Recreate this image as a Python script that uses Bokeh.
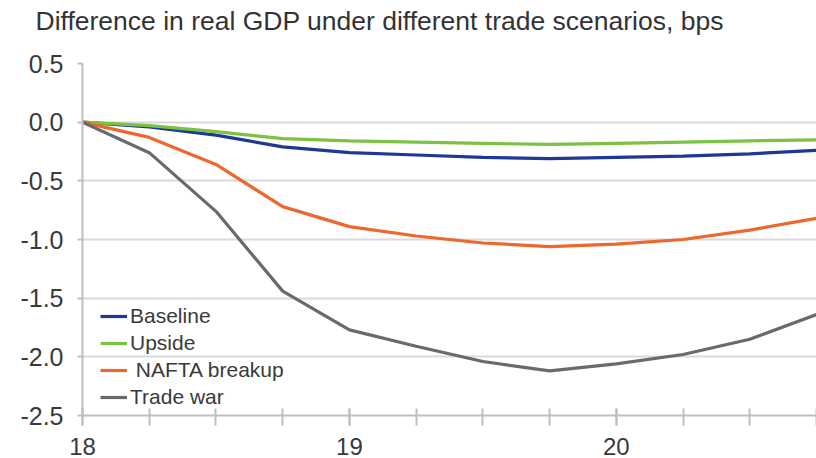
from bokeh.plotting import figure
from bokeh.models import FixedTicker, Legend, LegendItem, Range1d, PrintfTickFormatter, Title
from bokeh.embed import file_html
from bokeh.resources import INLINE

# Quarterly timeline (years 2018-2020, shown as 18, 19, 20)
quarters = [18.0, 18.25, 18.5, 18.75, 19.0, 19.25, 19.5, 19.75, 20.0, 20.25, 20.5, 20.75]
year_ticks = [18, 19, 20]
y_ticks = [-2.5, -2.0, -1.5, -1.0, -0.5, 0.0, 0.5]

# Difference in real GDP by scenario
baseline = [0.0, -0.04, -0.11, -0.21, -0.26, -0.28, -0.30, -0.31, -0.30, -0.29, -0.27, -0.24]
upside = [0.0, -0.03, -0.08, -0.14, -0.16, -0.17, -0.18, -0.19, -0.18, -0.17, -0.16, -0.15]
nafta_breakup = [0.0, -0.13, -0.36, -0.72, -0.89, -0.97, -1.03, -1.06, -1.04, -1.00, -0.92, -0.82]
trade_war = [0.0, -0.26, -0.76, -1.44, -1.77, -1.91, -2.04, -2.12, -2.06, -1.98, -1.85, -1.64]

series_names = ["Baseline", "Upside", " NAFTA breakup", "Trade war"]
series_colors = ["#1f3893", "#7cc242", "#ec682e", "#6a6a6a"]

FONT = "Liberation Sans"
TEXT = "#3a3a3a"

p = figure(width=816, height=458, output_backend="svg", toolbar_location=None,
           x_range=Range1d(18, 20.75), y_range=Range1d(-2.5, 0.5),
           min_border_left=82, min_border_right=0, min_border_top=63,
           min_border_bottom=43)

# Blank spacer between the frame and the heading, lifting the heading up
spacer = Title(text=" ", text_font_size="8px", standoff=15)
p.add_layout(spacer, "above")

p.title.text = "Difference in real GDP under different trade scenarios, bps"
p.title.text_font = FONT
p.title.text_font_size = "26.5px"
p.title.text_font_style = "normal"
p.title.text_color = "#333333"
p.title.offset = -47
p.title.standoff = 0
p.title.vertical_align = "top"

p.outline_line_color = None
p.background_fill_color = "white"
p.border_fill_color = "white"

# Axes
p.xaxis.ticker = FixedTicker(ticks=year_ticks, minor_ticks=quarters)
p.xaxis.formatter = PrintfTickFormatter(format="%d")
p.xaxis.major_tick_in = 7
p.xaxis.major_tick_out = 10
p.xaxis.minor_tick_in = 7
p.xaxis.minor_tick_out = 10
p.xaxis.major_label_standoff = 12

p.yaxis.ticker = FixedTicker(ticks=y_ticks, minor_ticks=[])
p.yaxis.formatter = PrintfTickFormatter(format="%.1f")
p.yaxis.major_tick_in = 0
p.yaxis.major_tick_out = 5
p.yaxis.major_label_standoff = 14

for ax in (p.xaxis, p.yaxis):
    ax.axis_line_color = "#bfbfbf"
    ax.axis_line_width = 2
    ax.major_tick_line_color = "#bfbfbf"
    ax.major_tick_line_width = 2
    ax.minor_tick_line_color = "#bfbfbf"
    ax.minor_tick_line_width = 2
    ax.major_label_text_font = FONT
    ax.major_label_text_color = TEXT
p.xaxis.major_label_text_font_size = "24px"
p.yaxis.major_label_text_font_size = "25px"

p.xgrid.visible = False
p.ygrid.grid_line_color = "#d9d9d9"
p.ygrid.grid_line_width = 2

# Series lines
items = []
for name, vals, col in zip(series_names, [baseline, upside, nafta_breakup, trade_war], series_colors):
    r = p.line(quarters, vals, line_color=col, line_width=3.2)
    items.append(LegendItem(label=name, renderers=[r]))

legend = Legend(items=items, location=(18, 6))
legend.label_text_font = FONT
legend.label_text_font_size = "21px"
legend.label_text_color = TEXT
legend.glyph_width = 27
legend.glyph_height = 20
legend.label_height = 20
legend.spacing = 3
legend.padding = 0
legend.margin = 0
legend.label_standoff = 3
legend.border_line_color = None
legend.background_fill_alpha = 0
p.add_layout(legend)

open("out.html", "w").write(file_html(p, INLINE))
